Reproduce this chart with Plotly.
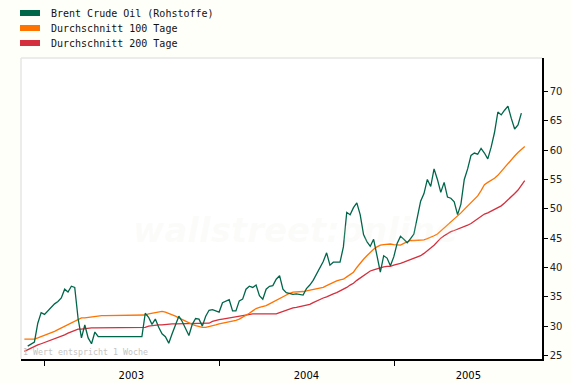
import plotly.graph_objects as go
import pandas as pd

# ---- data ----
brent_start = "2002-11-28"
brent = [
    26.6, 26.9, 27.3, 30.5, 32.3, 32.0, 32.6, 33.3, 33.8, 34.2,
    34.8, 36.3, 35.8, 36.8, 36.6, 31.3, 28.0, 30.2, 28.0, 27.0,
    29.0, 28.2, 28.2, 28.2, 28.2, 28.2, 28.2, 28.2, 28.2, 28.2,
    28.2, 28.2, 28.2, 28.2, 28.2, 32.2, 31.5, 30.3, 31.2, 29.8,
    28.7, 28.2, 27.1, 28.7, 30.3, 31.7, 30.8, 29.7, 28.4, 30.3,
    31.3, 31.2, 30.0, 31.7, 32.7, 32.8, 32.6, 32.4, 34.0, 34.2,
    34.5, 32.6, 32.6, 34.3, 34.6, 36.3, 36.8, 36.6, 37.0, 35.2,
    34.6, 36.3, 36.8, 36.9, 38.0, 38.6, 36.3, 35.7, 35.6, 35.4,
    35.5, 35.4, 35.3, 36.4, 37.0, 37.8, 38.8, 40.0, 41.0, 42.5,
    40.4, 40.9, 40.9, 40.9, 43.5, 49.4, 49.0, 50.2, 51.0, 49.0,
    45.6, 44.4, 43.6, 44.8, 42.0, 39.2, 42.0, 41.6, 40.3, 41.8,
    44.1, 45.3, 44.8, 44.2, 44.9, 45.7, 48.5, 51.3, 52.6, 55.0,
    53.8, 56.8, 55.0, 52.8, 54.5, 52.0, 51.8, 51.2, 49.0, 50.8,
    55.0, 56.8, 59.1, 59.5, 59.3, 60.3, 59.5, 58.5, 60.5, 63.0,
    66.5, 66.0, 66.8, 67.5, 65.4, 63.6, 64.3, 66.3,
]

ma_start = "2002-11-21"
ma100 = [
    27.8, 27.8, 27.8, 27.8, 28.0, 28.2, 28.5, 28.7, 28.9, 29.1,
    29.4, 29.7, 30.0, 30.3, 30.6, 30.9, 31.2, 31.4, 31.4, 31.5,
    31.5, 31.6, 31.8, 31.8, 31.8, 31.8, 31.8, 31.8, 31.8, 31.8,
    31.8, 31.8, 31.8, 31.8, 31.8, 31.8, 31.9, 32.1, 32.2, 32.4,
    32.5, 32.5, 32.4, 32.2, 32.0, 31.7, 31.4, 31.1, 30.8, 30.5,
    30.3, 30.1, 29.9, 29.8, 29.8, 29.9, 30.1, 30.2, 30.4, 30.5,
    30.6, 30.8, 30.9, 31.0, 31.2, 31.5, 31.8, 32.2, 32.6, 33.0,
    33.2, 33.3, 33.5, 33.8, 34.1, 34.5, 34.8, 35.0, 35.3, 35.6,
    35.8, 35.8, 35.9, 35.9, 36.0, 36.1, 36.2, 36.3, 36.5, 36.6,
    36.9, 37.2, 37.5, 37.7, 37.9, 38.0, 38.4, 38.8, 39.2, 40.0,
    40.8, 41.4, 42.0, 42.6, 43.1, 43.5, 43.8, 43.9, 44.0, 44.0,
    43.9, 43.8, 43.8, 44.1, 44.4, 44.6, 44.6, 44.6, 44.6, 44.7,
    44.9, 45.1, 45.4, 45.7, 46.2, 46.7, 47.2, 47.7, 48.2, 48.7,
    49.3, 49.9, 50.5, 51.0, 51.6, 52.2, 53.1, 54.1, 54.5, 54.8,
    55.2, 55.7, 56.4, 57.0, 57.7, 58.4, 59.0, 59.6, 60.1, 60.6,
]
ma200 = [
    25.7, 26.0, 26.3, 26.5, 26.8, 27.0, 27.2, 27.5, 27.7, 27.9,
    28.1, 28.3, 28.5, 28.8, 29.0, 29.3, 29.5, 29.5, 29.6, 29.6,
    29.7, 29.7, 29.7, 29.7, 29.7, 29.7, 29.7, 29.7, 29.7, 29.7,
    29.7, 29.7, 29.7, 29.7, 29.7, 29.7, 29.8, 30.0, 30.1, 30.1,
    30.2, 30.2, 30.3, 30.3, 30.4, 30.4, 30.4, 30.5, 30.5, 30.5,
    30.5, 30.5, 30.5, 30.5, 30.5, 30.5, 30.8, 31.0, 31.1, 31.2,
    31.3, 31.5, 31.6, 31.7, 31.8, 31.9, 32.0, 32.0, 32.1, 32.1,
    32.1, 32.1, 32.1, 32.1, 32.1, 32.1, 32.3, 32.5, 32.8, 33.0,
    33.1, 33.2, 33.3, 33.4, 33.5, 33.7, 34.0, 34.3, 34.5, 34.8,
    35.0, 35.3, 35.5, 35.7, 36.0, 36.2, 36.6, 37.0, 37.3, 37.8,
    38.2, 38.6, 39.0, 39.4, 39.6, 39.8, 40.0, 40.1, 40.2, 40.2,
    40.4, 40.5, 40.7, 40.9, 41.1, 41.3, 41.6, 41.8, 42.0, 42.4,
    42.8, 43.3, 43.8, 44.4, 45.0, 45.4, 45.8, 46.1, 46.3, 46.5,
    46.7, 46.9, 47.2, 47.5, 47.9, 48.3, 48.8, 49.1, 49.3, 49.6,
    49.8, 50.1, 50.5, 51.0, 51.5, 52.1, 52.6, 53.2, 54.0, 54.8,
]

series_names = ["Brent Crude Oil (Rohstoffe)", "Durchschnitt 100 Tage", "Durchschnitt 200 Tage"]
series_colors = ["#00664a", "#ff7300", "#d42f3c"]
year_labels = ["2003", "2004", "2005"]
year_starts = ["2003-01-01", "2004-01-01", "2005-01-01"]
y_ticks = [25, 30, 35, 40, 45, 50, 55, 60, 65, 70]
note_text = "1 Wert entspricht 1 Woche"

brent_dates = pd.date_range(brent_start, periods=len(brent), freq="7D")
ma_dates = pd.date_range(ma_start, periods=len(ma100), freq="7D")

x_min = pd.Timestamp("2002-11-14")
x_max = pd.Timestamp("2005-11-04")
label_pos = [pd.Timestamp("2003-07-02"), pd.Timestamp("2004-07-01"),
             pd.Timestamp("2005-01-01") + (x_max - pd.Timestamp("2005-01-01")) / 2]

fig = go.Figure()
fig.add_trace(go.Scatter(x=ma_dates, y=ma200, mode="lines", name=series_names[2],
                         line=dict(color=series_colors[2], width=1.3)))
fig.add_trace(go.Scatter(x=ma_dates, y=ma100, mode="lines", name=series_names[1],
                         line=dict(color=series_colors[1], width=1.3)))
fig.add_trace(go.Scatter(x=brent_dates, y=brent, mode="lines", name=series_names[0],
                         line=dict(color=series_colors[0], width=1.3)))

W, H = 571, 383
L, R, T, B = 21, 29, 58, 24
pw, ph = W - L - R, H - T - B

def px(xp):
    return (xp - L) / pw

def py(yp):
    return (H - B - yp) / ph

shapes = []
annotations = []
# custom legend
for i, (name, col) in enumerate(zip(series_names, series_colors)):
    y0 = 10 + 15 * i
    shapes.append(dict(type="rect", xref="paper", yref="paper",
                       x0=px(20), x1=px(40), y0=py(y0 + 6), y1=py(y0),
                       fillcolor=col, line=dict(width=0), layer="above"))
    annotations.append(dict(xref="paper", yref="paper", x=px(49), y=py(y0 + 3),
                            xanchor="left", yanchor="middle", showarrow=False,
                            text=name, font=dict(family="DejaVu Sans Mono", size=10, color="#111111")))
# light border of plot area (top & left)
shapes.append(dict(type="line", xref="paper", yref="paper", x0=0, x1=1, y0=1, y1=1,
                   line=dict(color="#e6e6e6", width=1.5)))
shapes.append(dict(type="line", xref="paper", yref="paper", x0=0, x1=0, y0=0, y1=1,
                   line=dict(color="#e6e6e6", width=1.5)))
# watermark (very faint)
annotations.append(dict(xref="paper", yref="paper", x=px(295), y=py(230),
                        xanchor="center", yanchor="middle", showarrow=False,
                        text="<b><i>wallstreet:online</i></b>",
                        font=dict(family="DejaVu Sans", size=34, color="rgba(235,235,220,0.16)")))
# note
annotations.append(dict(xref="paper", yref="paper", x=px(21), y=py(352),
                        xanchor="left", yanchor="middle", showarrow=False,
                        text=note_text, font=dict(family="DejaVu Sans Mono", size=8.3, color="#c4c4c4")))

fig.update_layout(
    width=W, height=H,
    margin=dict(l=L, r=R, t=T, b=B, pad=0, autoexpand=False),
    paper_bgcolor="#fffffa",
    plot_bgcolor="#ffffff",
    showlegend=False,
    shapes=shapes,
    annotations=annotations,
    xaxis=dict(
        type="date", range=[x_min, x_max], automargin=False,
        tickmode="array", tickvals=label_pos, ticktext=year_labels,
        ticks="", showgrid=False, zeroline=False,
        showline=True, linecolor="#000000", linewidth=1.5,
        tickfont=dict(family="DejaVu Sans", size=10, color="#000000"),
        ticklabelstandoff=6,
        minor=dict(tickmode="array", tickvals=year_starts, ticks="outside",
                   ticklen=5, tickcolor="#000000", tickwidth=1.2, showgrid=False),
    ),
    yaxis=dict(
        side="right", range=[24.4, 75.7], automargin=False,
        tickmode="array", tickvals=y_ticks,
        ticks="outside", ticklen=4, tickcolor="#000000", tickwidth=1,
        showgrid=False, zeroline=False,
        showline=True, linecolor="#000000", linewidth=1.5,
        tickfont=dict(family="DejaVu Sans", size=10, color="#222222"),
    ),
)

fig.write_html("out.html", config={"displayModeBar": False},
               post_script="document.body.style.margin='0px';document.body.style.background='#fffffa';")
